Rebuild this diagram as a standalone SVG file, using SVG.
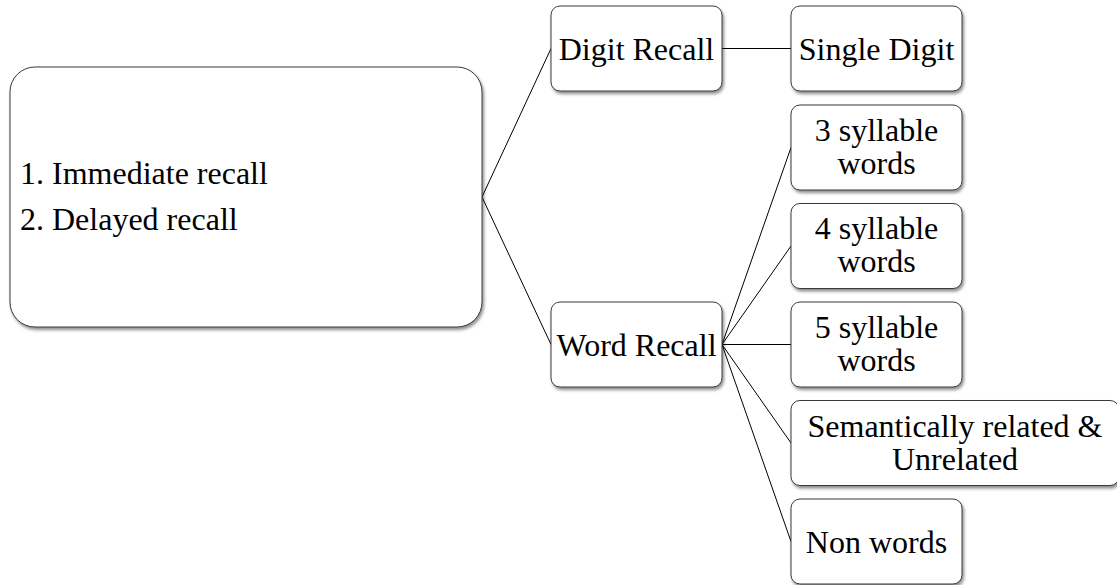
<svg xmlns="http://www.w3.org/2000/svg" width="1117" height="585" viewBox="0 0 1117 585">
  <defs>
    <filter id="shadow" x="-10%" y="-10%" width="125%" height="130%">
      <feDropShadow dx="1.5" dy="2.5" stdDeviation="1.6" flood-color="#000" flood-opacity="0.45"/>
    </filter>
  </defs>
  <style>
    .box { fill: #ffffff; stroke: #3a3a3a; stroke-width: 1; filter: url(#shadow); }
    .lbl { font-family: "Liberation Serif", "Times New Roman", serif; font-size: 32px; fill: #000; }
    .mid { text-anchor: middle; }
    .link { stroke: #000; stroke-width: 1; fill: none; }
  </style>
  <rect width="1117" height="585" fill="#ffffff"/>

  <!-- connectors -->
  <g id="connectors">
    <line class="link" x1="482" y1="197" x2="551" y2="48.5"/>
    <line class="link" x1="482" y1="197" x2="551" y2="344.5"/>
    <line class="link" x1="722" y1="48.5" x2="791" y2="48.5"/>
    <line class="link" x1="722" y1="344.5" x2="791" y2="147.5"/>
    <line class="link" x1="722" y1="344.5" x2="791" y2="246"/>
    <line class="link" x1="722" y1="344.5" x2="791" y2="344.5"/>
    <line class="link" x1="722" y1="344.5" x2="791" y2="443"/>
    <line class="link" x1="722" y1="344.5" x2="791" y2="541.5"/>
  </g>

  <!-- root: recall conditions -->
  <g id="recall">
    <rect class="box" x="10" y="67" width="472" height="260" rx="25" ry="25"/>
    <text class="lbl" x="20" y="184">1. Immediate recall</text>
    <text class="lbl" x="20" y="230">2. Delayed recall</text>
  </g>

  <g id="digit-recall">
    <rect class="box" x="551" y="6" width="171" height="85" rx="9" ry="9"/>
    <text class="lbl mid" x="636.5" y="60">Digit Recall</text>
  </g>

  <g id="word-recall">
    <rect class="box" x="551" y="302" width="171" height="85" rx="9" ry="9"/>
    <text class="lbl mid" x="636.5" y="356">Word Recall</text>
  </g>

  <g id="single-digit">
    <rect class="box" x="791" y="6" width="171" height="85" rx="9" ry="9"/>
    <text class="lbl mid" x="876.5" y="60">Single Digit</text>
  </g>

  <g id="syllable-3">
    <rect class="box" x="791" y="105" width="171" height="85" rx="9" ry="9"/>
    <text class="lbl mid" x="876.5" y="140.5">3 syllable</text>
    <text class="lbl mid" x="876.5" y="173.5">words</text>
  </g>

  <g id="syllable-4">
    <rect class="box" x="791" y="203.5" width="171" height="85" rx="9" ry="9"/>
    <text class="lbl mid" x="876.5" y="239">4 syllable</text>
    <text class="lbl mid" x="876.5" y="272">words</text>
  </g>

  <g id="syllable-5">
    <rect class="box" x="791" y="302" width="171" height="85" rx="9" ry="9"/>
    <text class="lbl mid" x="876.5" y="337.5">5 syllable</text>
    <text class="lbl mid" x="876.5" y="370.5">words</text>
  </g>

  <g id="semantic">
    <rect class="box" x="791" y="400.5" width="328" height="85" rx="9" ry="9"/>
    <text class="lbl mid" x="955" y="437">Semantically related &amp;</text>
    <text class="lbl mid" x="955" y="470">Unrelated</text>
  </g>

  <g id="non-words">
    <rect class="box" x="791" y="499" width="171" height="85" rx="9" ry="9"/>
    <text class="lbl mid" x="876.5" y="552.5">Non words</text>
  </g>
</svg>
